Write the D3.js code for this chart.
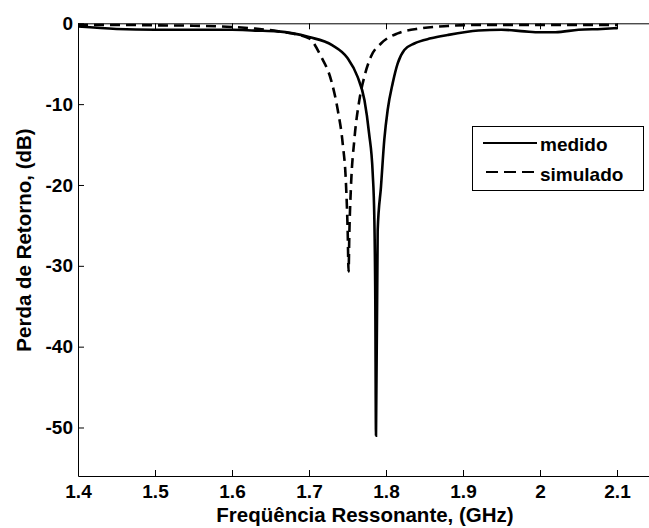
<!DOCTYPE html>
<html>
<head>
<meta charset="utf-8">
<script src="https://cdn.jsdelivr.net/npm/d3@7"></script>
<style>
  html, body { margin: 0; padding: 0; background: #fff; overflow: hidden; }
  svg { display: block; }
  text { font-family: "Liberation Sans", Arial, sans-serif; fill: #000; }
</style>
</head>
<body>
<svg id="chart" width="649" height="528"></svg>
<script>
// ---- data ----
const xTicks = [1.4, 1.5, 1.6, 1.7, 1.8, 1.9, 2.0, 2.1];
const xTickLabels = ["1.4", "1.5", "1.6", "1.7", "1.8", "1.9", "2", "2.1"];
const yTicks = [0, -10, -20, -30, -40, -50];
const yTickLabels = ["0", "-10", "-20", "-30", "-40", "-50"];

const medidoFreq = [1.40, 1.45, 1.50, 1.55, 1.60, 1.63, 1.66, 1.70, 1.73, 1.75, 1.763, 1.772, 1.778, 1.7827, 1.7848, 1.7861, 1.787, 1.7892, 1.7935, 1.7978, 1.8022, 1.8087, 1.8152, 1.8238, 1.8368, 1.8584, 1.880, 1.92, 1.95, 1.98, 2.00, 2.02, 2.05, 2.08, 2.10];
const medidoDb   = [-0.4, -0.7, -0.8, -0.8, -0.8, -0.9, -1.0, -1.7, -2.7, -4.3, -6.6, -9.5, -13.6, -18.5, -23.9, -34.2, -51.0, -25.6, -20.2, -14.4, -10.7, -7.4, -4.95, -3.3, -2.5, -1.86, -1.45, -0.9, -0.8, -1.0, -1.1, -1.1, -0.8, -0.7, -0.6];

const simuladoFreq = [1.40, 1.45, 1.50, 1.55, 1.60, 1.63, 1.66, 1.70, 1.7156, 1.7286, 1.7373, 1.7438, 1.748, 1.7503, 1.7514, 1.7524, 1.7545, 1.7589, 1.7654, 1.7719, 1.7805, 1.7935, 1.8152, 1.8455, 1.880, 1.9234, 1.96, 2.00, 2.05, 2.10];
const simuladoDb   = [-0.2, -0.2, -0.25, -0.3, -0.45, -0.65, -1.0, -1.86, -4.1, -7.0, -10.7, -14.9, -19.8, -26.0, -30.7, -26.0, -20.2, -14.4, -9.5, -6.6, -4.1, -2.5, -1.24, -0.62, -0.33, -0.2, -0.2, -0.2, -0.2, -0.2];

const seriesNames = ["medido", "simulado"];
const xLabel = "Freqüência Ressonante, (GHz)";
const yLabel = "Perda de Retorno, (dB)";

// ---- layout ----
const svg = d3.select("#chart");
const mLeft = 78, mRight = 694, mTop = 23.3, mBottom = 476;
const x = d3.scaleLinear().domain([1.4, 2.2]).range([mLeft, mRight]);
const y = d3.scaleLinear().domain([-56, 0]).range([mBottom, mTop]);

svg.append("defs").append("clipPath").attr("id", "clip")
  .append("rect").attr("x", mLeft).attr("y", mTop).attr("width", mRight - mLeft).attr("height", mBottom - mTop);

// curves
const medido = medidoFreq.map((f, i) => [f, medidoDb[i]]);
const simulado = simuladoFreq.map((f, i) => [f, simuladoDb[i]]);
const line = d3.line().x(d => x(d[0])).y(d => y(d[1])).curve(d3.curveMonotoneX);

const g = svg.append("g").attr("clip-path", "url(#clip)");
g.append("path").attr("d", line(simulado)).attr("fill", "none")
  .attr("stroke", "#000").attr("stroke-width", 2.6).attr("stroke-dasharray", "10,6");
g.append("path").attr("d", line(medido)).attr("fill", "none")
  .attr("stroke", "#000").attr("stroke-width", 2.6);

// axes (ticks inward)
const tickLen = 6;
const axB = d3.axisBottom(x).tickValues(xTicks).tickFormat((d, i) => xTickLabels[i]).tickSizeInner(-tickLen).tickSizeOuter(0).tickPadding(9);
const axT = d3.axisTop(x).tickValues(xTicks).tickFormat("").tickSizeInner(-tickLen).tickSizeOuter(0);
const axL = d3.axisLeft(y).tickValues(yTicks).tickFormat((d, i) => yTickLabels[i]).tickSizeInner(-tickLen).tickSizeOuter(0).tickPadding(5);

function style(sel) {
  sel.select(".domain").attr("stroke", "#000").attr("stroke-width", 1);
  sel.selectAll(".tick line").attr("stroke", "#000").attr("stroke-width", 1);
  sel.selectAll(".tick text").attr("font-size", 19).attr("font-weight", "bold")
     .attr("font-family", "'Liberation Sans', Arial, sans-serif").attr("fill", "#000");
}
svg.append("g").attr("transform", `translate(0,${mBottom})`).call(axB).call(style);
svg.append("g").attr("transform", `translate(0,${mTop})`).call(axT).call(style);
svg.append("g").attr("transform", `translate(${mLeft},0)`).call(axL).call(style);

// axis labels
svg.append("text").attr("x", 365).attr("y", 522).attr("text-anchor", "middle")
  .attr("font-size", 20.5).attr("font-weight", "bold").text(xLabel);
svg.append("text").attr("transform", "translate(31,240) rotate(-90)").attr("text-anchor", "middle")
  .attr("font-size", 20.5).attr("font-weight", "bold").text(yLabel);

// legend
const lg = svg.append("g");
lg.append("rect").attr("x", 472.5).attr("y", 126.5).attr("width", 171).attr("height", 64)
  .attr("fill", "#fff").attr("stroke", "#000").attr("stroke-width", 1);
lg.append("line").attr("x1", 483).attr("x2", 537).attr("y1", 143).attr("y2", 143)
  .attr("stroke", "#000").attr("stroke-width", 2);
lg.append("line").attr("x1", 483).attr("x2", 537).attr("y1", 172).attr("y2", 172)
  .attr("stroke", "#000").attr("stroke-width", 2).attr("stroke-dasharray", "12,6").attr("stroke-dashoffset", -3);
lg.append("text").attr("x", 540).attr("y", 151).attr("font-size", 19).attr("font-weight", "bold").text(seriesNames[0]);
lg.append("text").attr("x", 540).attr("y", 181).attr("font-size", 19).attr("font-weight", "bold").text(seriesNames[1]);
</script>
</body>
</html>
